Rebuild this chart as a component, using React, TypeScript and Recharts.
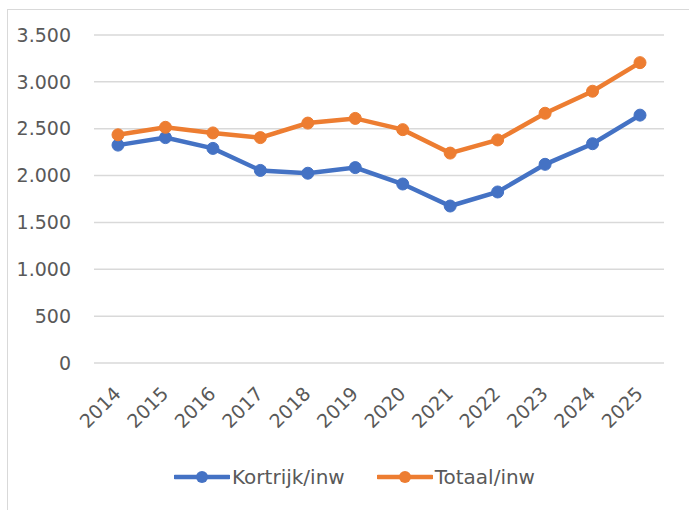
import React from 'react';
import { LineChart, Line, XAxis, YAxis, CartesianGrid } from 'recharts';

const years = ['2014', '2015', '2016', '2017', '2018', '2019', '2020', '2021', '2022', '2023', '2024', '2025'];
const kortrijk = [2325, 2405, 2290, 2055, 2025, 2085, 1910, 1675, 1825, 2120, 2340, 2645];
const totaal = [2435, 2515, 2455, 2405, 2560, 2610, 2490, 2240, 2380, 2665, 2900, 3205];
const yTicks = [0, 500, 1000, 1500, 2000, 2500, 3000, 3500];

const BLUE = '#4472C4';
const ORANGE = '#ED7D31';
const TEXT = '#595959';
const FONT = '"DejaVu Sans", sans-serif';

const data = years.map((year, i) => ({
    year,
    kortrijk: kortrijk[i],
    totaal: totaal[i],
}));

const fmt = (v: number) => v.toLocaleString('nl-BE');

const XTick = (props: any) => {
    const { x, y, payload } = props;
    return (
        <g transform={`translate(${x + 4},${y + 24})`}>
            <text x={0} y={0} textAnchor="end" transform="rotate(-45)" fill={TEXT} fontSize={19} fontFamily={FONT}>
                {payload.value}
            </text>
        </g>
    );
};

const LegendItem = ({ color, label }: { color: string; label: string }) => (
    <div style={{ display: 'flex', alignItems: 'center', marginRight: 32 }}>
        <svg width={56} height={16}>
            <line x1={1} y1={8} x2={55} y2={8} stroke={color} strokeWidth={4.5} strokeLinecap="round" />
            <circle cx={28} cy={8} r={6} fill={color} />
        </svg>
        <span style={{ color: TEXT, fontSize: 20, fontFamily: FONT, marginLeft: 2 }}>{label}</span>
    </div>
);

export default function App() {
    return (
        <div style={{ position: 'absolute', left: 0, top: 0, width: 689, height: 510, background: '#fff', overflow: 'hidden' }}>
            <div
                style={{
                    position: 'absolute',
                    left: 7,
                    top: 9,
                    width: 700,
                    height: 520,
                    border: '1.5px solid #d9d9d9',
                }}
            />
            <div style={{ position: 'absolute', left: 0, top: 0 }}>
                <LineChart width={689} height={510} data={data} margin={{ top: 35, right: 25, bottom: 87, left: 34 }}>
                    <CartesianGrid vertical={false} stroke="#d9d9d9" strokeWidth={1.5} />
                    <XAxis
                        dataKey="year"
                        axisLine={false}
                        tickLine={false}
                        height={60}
                        interval={0}
                        padding={{ left: 24, right: 24 }}
                        tick={<XTick />}
                    />
                    <YAxis
                        domain={[0, 3500]}
                        ticks={yTicks}
                        width={60}
                        axisLine={false}
                        tickLine={false}
                        tickMargin={17}
                        tickFormatter={fmt}
                        tick={{ fill: TEXT, fontSize: 19, fontFamily: FONT }}
                    />
                    <Line
                        dataKey="kortrijk"
                        name="Kortrijk/inw"
                        stroke={BLUE}
                        strokeWidth={4.5}
                        dot={{ r: 6, fill: BLUE, stroke: BLUE, strokeWidth: 1 }}
                        isAnimationActive={false}
                    />
                    <Line
                        dataKey="totaal"
                        name="Totaal/inw"
                        stroke={ORANGE}
                        strokeWidth={4.5}
                        dot={{ r: 6, fill: ORANGE, stroke: ORANGE, strokeWidth: 1 }}
                        isAnimationActive={false}
                    />
                </LineChart>
            </div>
            <div
                style={{
                    position: 'absolute',
                    left: 174,
                    top: 465,
                    display: 'flex',
                    alignItems: 'center',
                }}
            >
                <LegendItem color={BLUE} label="Kortrijk/inw" />
                <LegendItem color={ORANGE} label="Totaal/inw" />
            </div>
        </div>
    );
}
